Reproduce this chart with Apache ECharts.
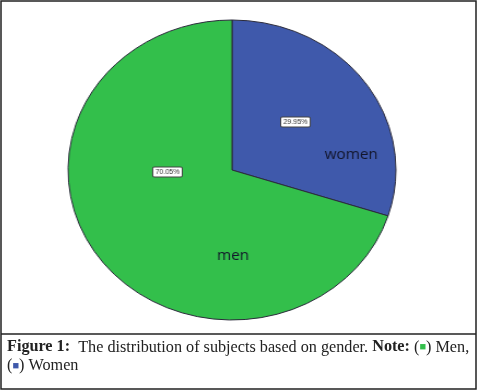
<!DOCTYPE html>
<html>
<head>
<meta charset="utf-8">
<script src="https://cdn.jsdelivr.net/npm/echarts@6/dist/echarts.min.js"></script>
<style>
  html, body { margin: 0; padding: 0; background: #fff; }
  #frame { position: absolute; left: 0; top: 0; width: 478px; height: 391px; }
  /* the source pie is slightly wider than tall, so stretch it a bit */
  #pie { position: absolute; left: 0; top: 0; width: 478px; height: 334px;
         transform-origin: 232px 170px; transform: scaleX(1.093); }
</style>
</head>
<body>
<div id="frame"></div>
<div id="pie"></div>
<script>
const categories = ['women', 'men'];
const shares = [29.95, 70.05];
const colors = ['#3f59ab', '#33bf4b'];
const captionLine1 = 'The distribution of subjects based on gender.';
const legendNames = ['Men', 'Women'];

// label nudges (dx, dy) away from the default slice-middle spot
const pctShift = [[-5, -2], [4, -44]];
const nameShift = [[46, 31], [64, 40]];

const pieData = categories.map((c, i) => ({
  name: c,
  value: shares[i],
  itemStyle: { color: colors[i] }
}));

const frame = echarts.init(document.getElementById('frame'));
frame.setOption({
  animation: false,
  title: {
    left: 7,
    top: 338,
    padding: 0,
    text: '{b|Figure 1:}  ' + captionLine1 + ' {b|Note:} ({g|■}) ' + legendNames[0] + ',\n({bl|■}) ' + legendNames[1],
    textStyle: {
      fontFamily: 'Liberation Serif',
      fontSize: 16.2,
      fontWeight: 'normal',
      color: '#222',
      lineHeight: 18.5,
      rich: {
        b: { fontFamily: 'Liberation Serif', fontSize: 16.2, fontWeight: 'bold', color: '#222', lineHeight: 18.5 },
        g: { fontSize: 11, color: colors[1], lineHeight: 18.5 },
        bl: { fontSize: 11, color: colors[0], lineHeight: 18.5 }
      }
    }
  },
  graphic: [
    { type: 'rect', shape: { x: 1, y: 1, width: 475, height: 388 },
      style: { fill: 'none', stroke: '#222', lineWidth: 1.5 } },
    { type: 'line', shape: { x1: 1, y1: 334, x2: 476, y2: 334 },
      style: { stroke: '#222', lineWidth: 1.5 } }
  ]
});

const pie = echarts.init(document.getElementById('pie'));
pie.setOption({
  animation: false,
  series: [
    {
      type: 'pie',
      center: [232, 170],
      radius: [0, 150],
      startAngle: 90,
      clockwise: true,
      data: pieData,
      itemStyle: { borderColor: '#2a2a3a', borderWidth: 1 },
      label: {
        position: 'inside',
        formatter: p => p.value.toFixed(2) + '%',
        fontFamily: 'Liberation Sans',
        fontSize: 6.5,
        color: '#333',
        backgroundColor: '#fff',
        borderColor: '#444',
        borderWidth: 1,
        borderRadius: 1,
        padding: [1, 2]
      },
      labelLayout: p => ({ dx: pctShift[p.dataIndex][0], dy: pctShift[p.dataIndex][1] }),
      labelLine: { show: false },
      emphasis: { disabled: true }
    },
    {
      type: 'pie',
      center: [232, 170],
      radius: [0, 150],
      startAngle: 90,
      clockwise: true,
      silent: true,
      data: categories.map((c, i) => ({ name: c, value: shares[i] })),
      itemStyle: { color: 'rgba(0,0,0,0)', borderWidth: 0 },
      label: {
        position: 'inside',
        formatter: '{b}',
        fontFamily: 'Open Sans',
        fontSize: 14,
        fontWeight: 500,
        color: '#12152a'
      },
      labelLayout: p => ({ dx: nameShift[p.dataIndex][0], dy: nameShift[p.dataIndex][1] }),
      labelLine: { show: false },
      emphasis: { disabled: true }
    }
  ]
});
</script>
</body>
</html>
